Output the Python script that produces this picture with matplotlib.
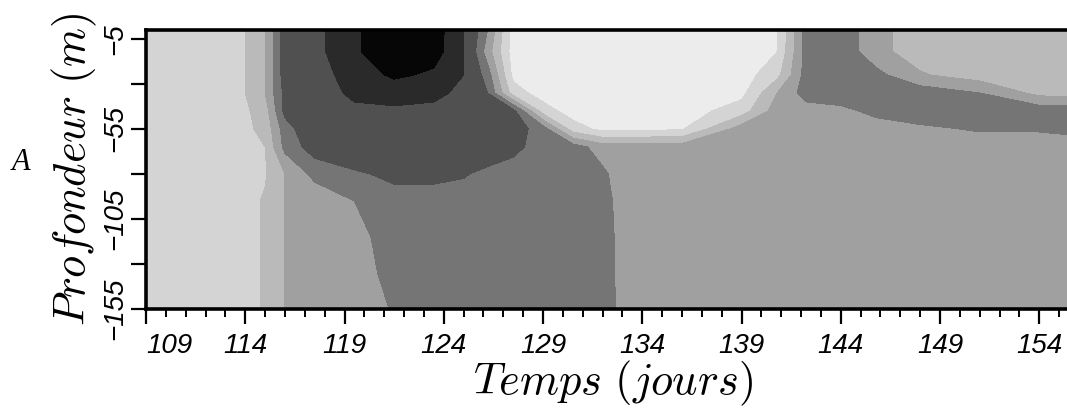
import numpy as np
import matplotlib
matplotlib.use("Agg")
import matplotlib.pyplot as plt
from matplotlib.colors import ListedColormap, BoundaryNorm
from matplotlib.ticker import MultipleLocator, FixedLocator
from matplotlib.font_manager import FontProperties

plt.rcParams['mathtext.fontset'] = 'cm'

# Sampling grid: time (days) and depth (m)
jours = [109, 113.5, 115, 116, 117.5, 119.5, 121.5, 123.5, 125, 126.2, 127.5, 129,
         130.5, 132, 133, 136, 139, 140.8, 142.3, 144, 145.8, 148, 151, 154, 156]
profondeurs = [0, -12, -25, -35, -45, -55, -65, -80, -95, -115, -135, -155]

# Concentration (ug/l), one row per depth
conc_0 = [2, 2, 3.5, 6, 6.5, 8.3, 9.5, 9.3, 7, 4.5, 1, 1, 1, 1, 1, 1, 1, 1.4, 5, 5.2, 3.8, 3, 3, 3, 3]
conc_12 = [2, 2, 3.5, 6, 6.5, 8.3, 9.5, 9.2, 7, 4, 1, 1, 1, 1, 1, 1, 1, 1.5, 5, 5.2, 3.8, 3, 3, 3, 3]
conc_25 = [2, 2, 3.5, 6, 6.5, 7.5, 8.8, 8.2, 7, 5, 1.2, 1, 1, 1, 1, 1, 1, 2.2, 5, 5.2, 4.8, 3.6, 3, 3, 3]
conc_35 = [2, 2, 3.5, 5.8, 6.5, 7.2, 7.5, 7.2, 6.8, 5.5, 2, 1, 1, 1, 1, 1, 1.2, 3.5, 5, 5.2, 5.2, 5.1, 4.5, 3.2, 3]
conc_45 = [2, 2, 3, 5.8, 6.5, 6.8, 6.8, 6.8, 6.6, 6.5, 5.8, 2, 1, 1, 1, 1, 2, 4, 4, 4.2, 4.8, 5.1, 5.2, 5.1, 5.2]
conc_55 = [2, 2, 2.8, 5, 6.5, 6.8, 6.8, 6.8, 6.6, 6.5, 6, 5, 2, 1.2, 1.2, 1.4, 4, 4, 4, 4, 4, 4.3, 4.6, 4.6, 4.8]
conc_65 = [2, 2, 2.5, 4.8, 6, 6.6, 6.6, 6.6, 6.5, 6.3, 5.8, 5, 5, 4, 4, 4, 4, 4, 4, 4, 4, 4, 4, 4, 4]
conc_80 = [2, 2, 2.4, 3.5, 4.8, 5.3, 5.8, 5.8, 5.6, 5.2, 5, 5, 5, 4.7, 4, 4, 4, 4, 4, 4, 4, 4, 4, 4, 4]
conc_95 = [2, 2, 2.6, 3.5, 3.8, 4.5, 5, 5, 5, 5, 5, 5, 5, 5, 4, 4, 4, 4, 4, 4, 4, 4, 4, 4, 4]
conc_115 = [2, 2, 2.6, 3.5, 3.8, 4, 5.2, 5.2, 5.2, 5.2, 5.2, 5.2, 5.2, 5.2, 4, 4, 4, 4, 4, 4, 4, 4, 4, 4, 4]
conc_135 = [2, 2, 2.6, 3.5, 3.8, 3.8, 5, 5.3, 5.3, 5.3, 5.3, 5.3, 5.3, 5.3, 4, 4, 4, 4, 4, 4, 4, 4, 4, 4, 4]
conc_155 = [2, 2, 2.6, 3.5, 3.8, 3.8, 4.6, 5.4, 5.4, 5.4, 5.4, 5.4, 5.4, 5.4, 4, 4, 4, 4, 4, 4, 4, 4, 4, 4, 4]

niveaux = [0, 1.5, 2.5, 3.5, 4.5, 5.5, 7, 8.5, 10]
gris = ['#ececec', '#d4d4d4', '#bababa', '#a0a0a0', '#757575', '#505050', '#2a2a2a', '#060606']

xticks = [109, 114, 119, 124, 129, 134, 139, 144, 149, 154]
yticks = [-5, -55, -105, -155]

C = np.array([conc_0, conc_12, conc_25, conc_35, conc_45, conc_55,
              conc_65, conc_80, conc_95, conc_115, conc_135, conc_155])
T, Z = np.meshgrid(jours, profondeurs)

DPI = 100
fig = plt.figure(figsize=(1067 / DPI, 412 / DPI), dpi=DPI)
ax = fig.add_axes([146 / 1067, 1 - 309 / 412, 933 / 1067, 279 / 412])

cmap = ListedColormap(gris)
norm = BoundaryNorm(niveaux, cmap.N)
ax.contourf(T, Z, C, levels=niveaux, cmap=cmap, norm=norm)

ax.set_xlim(109, 156)
ax.set_ylim(-155, 0)

ax.xaxis.set_major_locator(FixedLocator(xticks))
ax.xaxis.set_minor_locator(MultipleLocator(1))
ax.yaxis.set_major_locator(FixedLocator(yticks))
ax.yaxis.set_minor_locator(FixedLocator([-30, -80, -130]))
ax.set_xticklabels([str(t) for t in xticks])
ax.set_yticklabels(['\u2212' + str(-t) for t in yticks], rotation=90, va='center')

tick_font = FontProperties(family='Liberation Sans', style='italic', size=20)
for lab in ax.get_xticklabels() + ax.get_yticklabels():
    lab.set_fontproperties(tick_font)
# first day label pushed right of the axis corner
ax.get_xticklabels()[0].set_horizontalalignment('left')

ax.tick_params(axis='both', which='major', direction='out', length=11, width=1.6, pad=6)
ax.tick_params(axis='x', which='minor', direction='out', length=6, width=1.4)
ax.tick_params(axis='y', which='minor', direction='out', length=11, width=1.6)
ax.tick_params(axis='y', which='major', pad=2)
ax.tick_params(top=False, right=False)

for s in ax.spines.values():
    s.set_linewidth(2.6)

ax.set_xlabel(r'$Temps\ (jours)$', fontsize=32, labelpad=0)
ax.set_ylabel(r'$Profondeur\ (m)$', fontsize=32, labelpad=2)

fig.text(12 / 1067, 1 - 163 / 412, 'A', family='Liberation Serif', style='italic',
         fontsize=22, ha='left', va='center')

# title sits mostly above the top edge
fig.text(808 / 1067, 1 + 2 / 412, r'$Carbone\ particulaire\ (\mu g/l)$', fontsize=24,
         ha='right', va='bottom')

fig.savefig('out.png', dpi=DPI)
